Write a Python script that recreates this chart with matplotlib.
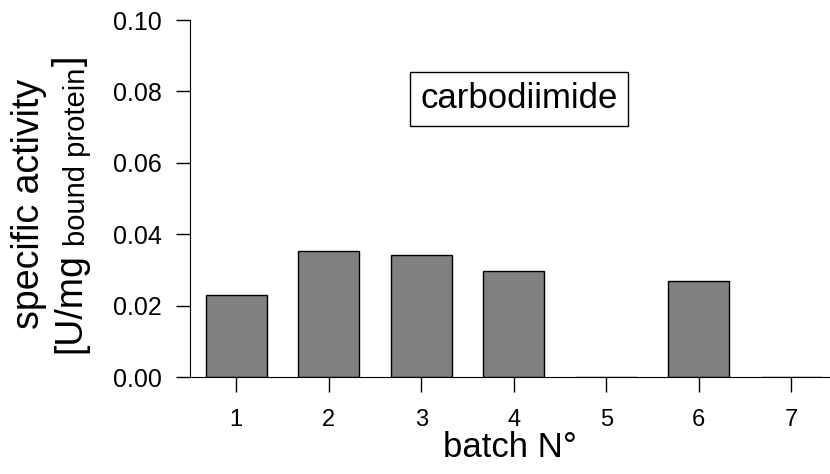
import matplotlib
matplotlib.use("Agg")
import matplotlib.pyplot as plt

plt.rcParams['font.family'] = ['Liberation Sans', 'DejaVu Sans']

# data
batches = [1, 2, 3, 4, 5, 6, 7]
activity = [0.0230, 0.0353, 0.0342, 0.0297, 0.0, 0.0270, 0.0]
yticks = [0.00, 0.02, 0.04, 0.06, 0.08, 0.10]

W, H = 830, 474
fig = plt.figure(figsize=(W / 100, H / 100), dpi=100)
ax = fig.add_axes([190 / W, 1 - 377.3 / H, 1 - 190 / W, (377.3 - 20) / H])

ax.bar(batches, activity, width=0.66, color='#808080',
       edgecolor='black', linewidth=1.0)

ax.set_xlim(0.5, 7.42)
ax.set_ylim(0, 0.10)
ax.set_xticks(batches)
ax.set_yticks(yticks)
ax.set_yticklabels(["%.2f" % v for v in yticks])

ax.spines['top'].set_visible(False)
ax.spines['right'].set_visible(False)
ax.tick_params(axis='y', direction='out', length=10, width=1, labelsize=18, pad=10.5)
ax.tick_params(axis='x', direction='out', length=10.5, width=1, labelsize=17, pad=12.5)

ax.set_xlabel("batch N°", fontsize=25, labelpad=0)

ax.text(4.057, 0.078, "carbodiimide", fontsize=25, ha='center', va='center',
        bbox=dict(boxstyle='square,pad=0.3', facecolor='white',
                  edgecolor='black', linewidth=1))

# y label: two lines, the second one with a subscript
ymid = 270
fig.text(39 / W, ymid / H, "specific activity", fontsize=27, rotation=90,
         rotation_mode='anchor', ha='center', va='baseline')

pieces = [("[U/mg", 27, 80, 0), ("bound protein", 21, 85, 7), ("]", 27, 80, 2)]
texts = []
for s, fs, bx, gap in pieces:
    t = fig.text(bx / W, 0, s, fontsize=fs, rotation=90,
                 rotation_mode='anchor', ha='left', va='baseline')
    texts.append((t, gap))
fig.canvas.draw()
r = fig.canvas.get_renderer()
lengths = [t.get_window_extent(r).height for t, g in texts]
total = sum(lengths) + sum(g for t, g in texts)
ypos = ymid - total / 2
for (t, gap), ln in zip(texts, lengths):
    ypos += gap
    t.set_y(ypos / H)
    ypos += ln

fig.savefig("out.png", dpi=100)
